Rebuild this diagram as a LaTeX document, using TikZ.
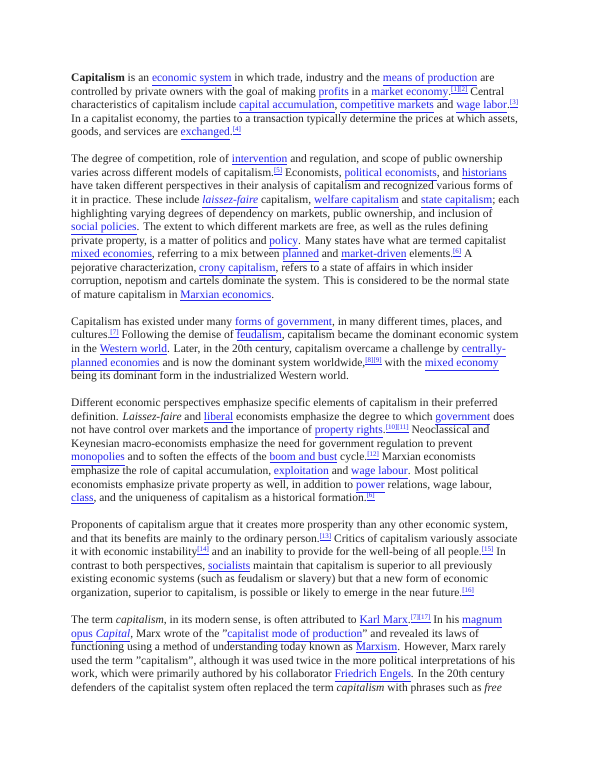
\documentclass[tikz,border=0pt]{standalone}
\usepackage{fontspec}
\setmainfont{Liberation Serif}
\definecolor{lb}{rgb}{0.15,0.15,0.93}
\newcommand\lk[1]{{\color{lb}\underline{#1}}}
\newcommand\rf[1]{\raisebox{4pt}{\fontsize{7}{7}\selectfont\lk{#1}}}
\tikzset{ln/.style={anchor=base west,inner sep=0pt,font=\fontsize{11.5}{13}\selectfont,text=black!85}}
\newcommand\tl[3]{\node[ln] (l#1) at (71,{-(81.5+13.55*#2)}) {#3};}
\begin{document}
\begin{tikzpicture}[x=1pt,y=1pt]
\useasboundingbox[fill=white] (0,0) rectangle (600,-776);
\tl{a}{0}{\textbf{Capitalism} is an \lk{economic system} in which trade, industry and the \lk{means of production} are}
\tl{b}{1}{controlled by private owners with the goal of making \lk{profits} in a \lk{market economy}.\rf{[1][2]} Central}
\tl{c}{2}{characteristics of capitalism include \lk{capital accumulation}, \lk{competitive markets} and \lk{wage labor}.\rf{[3]}}
\tl{d}{3}{In a capitalist economy, the parties to a transaction typically determine the prices at which assets,}
\tl{e}{4}{goods, and services are \lk{exchanged}.\rf{[4]}}
\tl{f}{6}{The degree of competition, role of \lk{intervention} and regulation, and scope of public ownership}
\tl{g}{7}{varies across different models of capitalism.\rf{[5]} Economists, \lk{political economists}, and \lk{historians}}
\tl{h}{8}{have taken different perspectives in their analysis of capitalism and recognized various forms of}
\tl{i}{9}{it in practice. These include \lk{\textit{laissez-faire}} capitalism, \lk{welfare capitalism} and \lk{state capitalism}; each}
\tl{j}{10}{highlighting varying degrees of dependency on markets, public ownership, and inclusion of}
\tl{k}{11}{\lk{social policies}. The extent to which different markets are free, as well as the rules defining}
\tl{l}{12}{private property, is a matter of politics and \lk{policy}. Many states have what are termed capitalist}
\tl{m}{13}{\lk{mixed economies}, referring to a mix between \lk{planned} and \lk{market-driven} elements.\rf{[6]} A}
\tl{n}{14}{pejorative characterization, \lk{crony capitalism}, refers to a state of affairs in which insider}
\tl{o}{15}{corruption, nepotism and cartels dominate the system. This is considered to be the normal state}
\tl{p}{16}{of mature capitalism in \lk{Marxian economics}.}
\tl{q}{18}{Capitalism has existed under many \lk{forms of government}, in many different times, places, and}
\tl{r}{19}{cultures.\rf{[7]} Following the demise of \lk{feudalism}, capitalism became the dominant economic system}
\tl{s}{20}{in the \lk{Western world}. Later, in the 20th century, capitalism overcame a challenge by \lk{centrally-}}
\tl{t}{21}{\lk{planned economies} and is now the dominant system worldwide,\rf{[8][9]} with the \lk{mixed economy}}
\tl{u}{22}{being its dominant form in the industrialized Western world.}
\tl{v}{24}{Different economic perspectives emphasize specific elements of capitalism in their preferred}
\tl{w}{25}{definition. \textit{Laissez-faire} and \lk{liberal} economists emphasize the degree to which \lk{government} does}
\tl{x}{26}{not have control over markets and the importance of \lk{property rights}.\rf{[10][11]} Neoclassical and}
\tl{y}{27}{Keynesian macro-economists emphasize the need for government regulation to prevent}
\tl{z}{28}{\lk{monopolies} and to soften the effects of the \lk{boom and bust} cycle.\rf{[12]} Marxian economists}
\tl{aa}{29}{emphasize the role of capital accumulation, \lk{exploitation} and \lk{wage labour}. Most political}
\tl{ab}{30}{economists emphasize private property as well, in addition to \lk{power} relations, wage labour,}
\tl{ac}{31}{\lk{class}, and the uniqueness of capitalism as a historical formation.\rf{[6]}}
\tl{ad}{33}{Proponents of capitalism argue that it creates more prosperity than any other economic system,}
\tl{ae}{34}{and that its benefits are mainly to the ordinary person.\rf{[13]} Critics of capitalism variously associate}
\tl{af}{35}{it with economic instability\rf{[14]} and an inability to provide for the well-being of all people.\rf{[15]} In}
\tl{ag}{36}{contrast to both perspectives, \lk{socialists} maintain that capitalism is superior to all previously}
\tl{ah}{37}{existing economic systems (such as feudalism or slavery) but that a new form of economic}
\tl{ai}{38}{organization, superior to capitalism, is possible or likely to emerge in the near future.\rf{[16]}}
\tl{aj}{40}{The term \textit{capitalism}, in its modern sense, is often attributed to \lk{Karl Marx}.\rf{[7][17]} In his \lk{magnum}}
\tl{ak}{41}{\lk{opus} \lk{\textit{Capital}}, Marx wrote of the "\lk{capitalist mode of production}" and revealed its laws of}
\tl{al}{42}{functioning using a method of understanding today known as \lk{Marxism}. However, Marx rarely}
\tl{am}{43}{used the term "capitalism", although it was used twice in the more political interpretations of his}
\tl{an}{44}{work, which were primarily authored by his collaborator \lk{Friedrich Engels}. In the 20th century}
\tl{ao}{45}{defenders of the capitalist system often replaced the term \textit{capitalism} with phrases such as \textit{free}}
\end{tikzpicture}
\end{document}
